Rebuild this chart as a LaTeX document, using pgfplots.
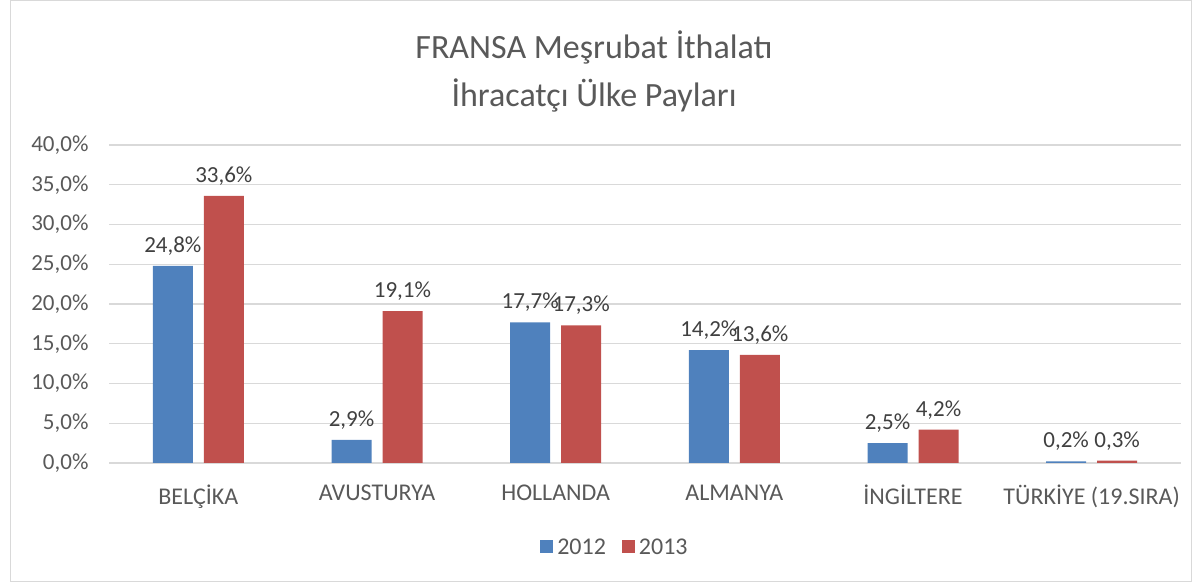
\documentclass[border=0pt]{standalone}
\usepackage{fontspec}
\setmainfont{Carlito}
\usepackage{pgfplots}
\pgfplotsset{compat=1.18}

\definecolor{bluebar}{HTML}{4F81BD}
\definecolor{redbar}{HTML}{C0504D}
\definecolor{gridgray}{HTML}{D9D9D9}
\definecolor{ticktext}{HTML}{595959}
\definecolor{labeltext}{HTML}{404040}

\begin{document}
\begin{tikzpicture}
\useasboundingbox (0,0) rectangle (1204pt,585pt);
\draw[draw=gridgray, line width=1pt] (10pt,3pt) rectangle (1191pt,584pt);
\node[text=ticktext, align=center, font=\fontsize{34}{48}\selectfont] at (594pt,514pt)
  {FRANSA Meşrubat İthalatı\\İhracatçı Ülke Payları};
\begin{axis}[
    at={(109pt,122pt)}, anchor=south west,
    scale only axis,
    width=1072pt, height=318pt,
    ybar, bar width=40pt,
    xmin=-0.5, xmax=5.5,
    ymin=0, ymax=40,
    ytick={0,5,...,40},
    xtick=data,
    xticklabels={BELÇİKA, AVUSTURYA, HOLLANDA, ALMANYA, İNGİLTERE, TÜRKİYE (19.SIRA)},
    axis line style={draw=none},
    major tick style={draw=none},
    ymajorgrids, grid style={gridgray, line width=1.2pt},
    /pgf/number format/assume math mode=true,
    yticklabel={\pgfmathprintnumber[fixed, fixed zerofill, precision=1, use comma]{\tick}\%},
    yticklabel style={text=ticktext, font=\fontsize{23}{26}\selectfont, xshift=-17pt},
    xticklabel style={text=ticktext, font=\fontsize{24}{27}\selectfont, yshift=-14pt},
    nodes near coords={\pgfmathprintnumber[fixed, fixed zerofill, precision=1, use comma]{\pgfplotspointmeta}\%},
    nodes near coords style={text=labeltext, font=\fontsize{23}{26}\selectfont, yshift=7pt, inner xsep=1pt},
    legend columns=2,
    legend style={draw=none, at={(0.472,-0.267)}, anchor=center,
      font=\fontsize{24}{27}\selectfont, text=ticktext,
      /tikz/every odd column/.append style={column sep=2pt},
      /tikz/every even column/.append style={column sep=14pt}},
    legend image code/.code={\fill[#1] (0pt,-5pt) rectangle (13pt,8pt);},
]
\addplot[fill=bluebar, draw=none, bar shift=-25.5pt] coordinates {(0,24.8) (1,2.9) (2,17.7) (3,14.2) (4,2.5) (5,0.2)};
\addplot[fill=redbar, draw=none, bar shift=25.5pt] coordinates {(0,33.6) (1,19.1) (2,17.3) (3,13.6) (4,4.2) (5,0.3)};
\legend{2012, 2013}
\end{axis}
\end{tikzpicture}
\end{document}
